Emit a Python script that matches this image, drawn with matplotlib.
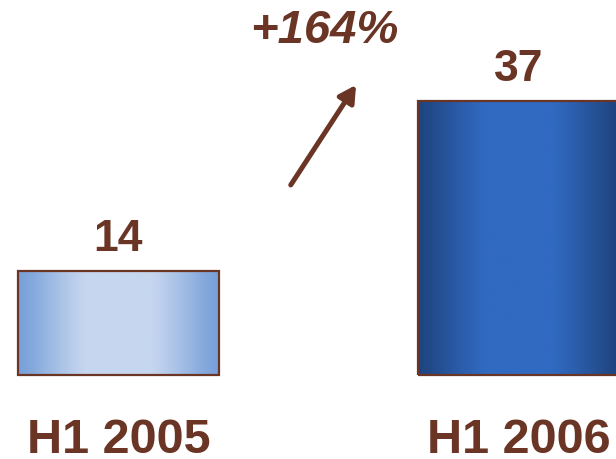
import numpy as np
import matplotlib
matplotlib.use("Agg")
import matplotlib.pyplot as plt
from matplotlib.colors import LinearSegmentedColormap

periods = ["H1 2005", "H1 2006"]
values = [14, 37]
growth_label = "+164%"

BROWN = "#6B3526"
bar_cmaps = [
    LinearSegmentedColormap.from_list("light", ["#78A0D9", "#C6D6EF"]),
    LinearSegmentedColormap.from_list("dark", ["#1F4580", "#316AC1"]),
]

plt.rcParams["font.family"] = ["Liberation Sans", "DejaVu Sans"]

fig = plt.figure(figsize=(6.16, 4.59), dpi=100)
ax = fig.add_axes([0, 0, 1, 1])
ax.set_xlim(-0.296, 1.244)
ax.set_ylim(-11.34, 50.64)
ax.axis("off")

x = np.arange(len(values))
width = 0.5025
bars = ax.bar(x, values, width=width, facecolor="none", edgecolor=BROWN,
              linewidth=1.6, zorder=3)

# horizontal cylinder-like shading: darker at the sides, light in the middle
t = np.linspace(0, 1, 256)
profile = np.clip(1.2 * np.sin(np.pi * t) ** 1.3, 0, 1)
for bar, cmap in zip(bars, bar_cmaps):
    x0, y0 = bar.get_x(), bar.get_y()
    w, h = bar.get_width(), bar.get_height()
    ax.imshow(profile[np.newaxis, :], cmap=cmap, vmin=0, vmax=1,
              extent=[x0, x0 + w, y0, y0 + h], aspect="auto",
              interpolation="bilinear", zorder=2)

for xi, v in zip(x, values):
    ax.annotate(f"{v}", (xi, v), xytext=(0, 8), textcoords="offset points",
                ha="center", va="bottom", fontsize=32, fontweight="bold",
                color=BROWN)

for xi, lab in zip(x, periods):
    ax.annotate(lab, (xi, 0), xytext=(0, -31), textcoords="offset points",
                ha="center", va="top", fontsize=35, fontweight="bold",
                color=BROWN)

ax.annotate("", xy=(0.578, 0.815), xytext=(0.472, 0.597),
            xycoords="axes fraction",
            arrowprops=dict(arrowstyle="-|>,head_length=1.0,head_width=0.55",
                        color=BROWN, lw=3.6, shrinkA=0, shrinkB=0))
ax.text(0.527, 0.932, growth_label, transform=ax.transAxes, ha="center",
        va="center", fontsize=34, fontweight="bold", fontstyle="italic",
        color=BROWN)

fig.savefig("out.png", dpi=100)
